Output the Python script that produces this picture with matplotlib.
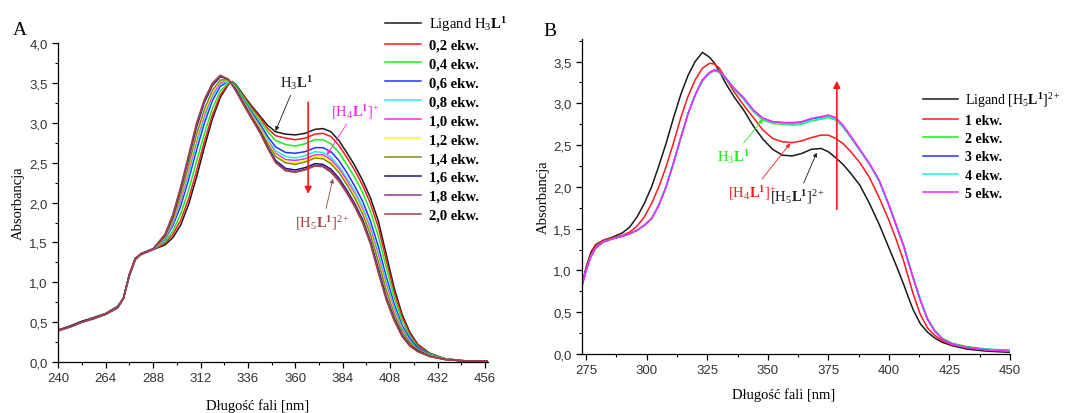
"""
UV-Vis titration spectra: panel A (ligand H3L1 + 0.2-2.0 ekw.) and panel B (ligand [H5L1]2+ + 1-5 ekw.).
"""
import matplotlib
matplotlib.use('Agg')
import matplotlib.pyplot as plt
from matplotlib.ticker import MultipleLocator, FuncFormatter

plt.rcParams['font.family'] = ['Liberation Serif', 'DejaVu Serif']
plt.rcParams['mathtext.fontset'] = 'custom'
plt.rcParams['mathtext.rm'] = 'Liberation Serif'
plt.rcParams['mathtext.bf'] = 'Liberation Serif:bold'
plt.rcParams['mathtext.it'] = 'Liberation Serif:italic'

# ---- panel A data (wavelength in nm, absorbance) ----
wl_a = [240, 246, 252, 258, 264, 270, 273, 276, 279, 282, 288,
        294, 298, 302, 306, 310, 314, 318, 322, 326, 328,
        330, 334, 338, 342, 346, 350, 355, 360, 365, 370,
        374, 378, 382, 386, 390, 394, 398, 402, 406, 410,
        414, 418, 422, 428, 436, 446, 458]

a_ligand = [0.40, 0.45, 0.51, 0.56, 0.61, 0.70, 0.80, 1.08, 1.28, 1.35, 1.41,
            1.47, 1.56, 1.72, 1.98, 2.32, 2.70, 3.05, 3.32, 3.48, 3.52,
            3.48, 3.34, 3.21, 3.09, 2.97, 2.89, 2.86, 2.85, 2.87, 2.92,
            2.93, 2.89, 2.78, 2.63, 2.47, 2.28, 2.06, 1.77, 1.35, 0.93,
            0.60, 0.37, 0.22, 0.11, 0.04, 0.015, 0.01]
a_02 = [0.40, 0.45, 0.51, 0.55, 0.60, 0.69, 0.80, 1.09, 1.29, 1.35, 1.41,
        1.49, 1.60, 1.78, 2.05, 2.40, 2.77, 3.10, 3.35, 3.49, 3.52,
        3.47, 3.33, 3.19, 3.07, 2.93, 2.84, 2.81, 2.79, 2.81, 2.86,
        2.87, 2.83, 2.72, 2.57, 2.41, 2.22, 1.99, 1.69, 1.28, 0.88,
        0.57, 0.35, 0.21, 0.10, 0.04, 0.015, 0.01]
a_04 = [0.40, 0.44, 0.51, 0.55, 0.60, 0.69, 0.80, 1.09, 1.29, 1.36, 1.41,
        1.51, 1.64, 1.86, 2.16, 2.52, 2.87, 3.18, 3.40, 3.50, 3.51,
        3.46, 3.31, 3.16, 3.03, 2.89, 2.78, 2.73, 2.71, 2.74, 2.79,
        2.79, 2.74, 2.63, 2.48, 2.32, 2.13, 1.89, 1.58, 1.19, 0.81,
        0.52, 0.32, 0.19, 0.10, 0.037, 0.014, 0.01]
a_06 = [0.40, 0.45, 0.50, 0.55, 0.60, 0.69, 0.80, 1.09, 1.29, 1.36, 1.41,
        1.54, 1.71, 1.96, 2.29, 2.66, 3.00, 3.28, 3.46, 3.52, 3.50,
        3.44, 3.28, 3.13, 2.99, 2.83, 2.70, 2.63, 2.62, 2.64, 2.69,
        2.69, 2.64, 2.53, 2.38, 2.21, 2.02, 1.77, 1.45, 1.07, 0.73,
        0.46, 0.29, 0.18, 0.09, 0.035, 0.013, 0.01]
a_08 = [0.40, 0.44, 0.50, 0.55, 0.60, 0.69, 0.80, 1.09, 1.29, 1.36, 1.41,
        1.55, 1.74, 2.02, 2.36, 2.74, 3.07, 3.33, 3.49, 3.52, 3.50,
        3.43, 3.27, 3.11, 2.96, 2.79, 2.65, 2.58, 2.56, 2.59, 2.64,
        2.63, 2.57, 2.46, 2.31, 2.15, 1.95, 1.70, 1.37, 1.00, 0.68,
        0.43, 0.26, 0.16, 0.085, 0.034, 0.013, 0.01]
a_10 = [0.39, 0.44, 0.50, 0.55, 0.60, 0.69, 0.80, 1.09, 1.29, 1.36, 1.41,
        1.56, 1.76, 2.05, 2.41, 2.79, 3.11, 3.36, 3.51, 3.53, 3.49,
        3.42, 3.26, 3.10, 2.95, 2.77, 2.62, 2.54, 2.53, 2.55, 2.60,
        2.60, 2.54, 2.43, 2.28, 2.11, 1.91, 1.66, 1.32, 0.96, 0.65,
        0.41, 0.25, 0.16, 0.08, 0.033, 0.013, 0.01]
a_12 = [0.40, 0.45, 0.50, 0.55, 0.60, 0.68, 0.80, 1.10, 1.29, 1.36, 1.42,
        1.57, 1.78, 2.08, 2.44, 2.82, 3.14, 3.38, 3.53, 3.53, 3.49,
        3.42, 3.25, 3.09, 2.94, 2.76, 2.60, 2.52, 2.50, 2.53, 2.58,
        2.58, 2.51, 2.40, 2.25, 2.09, 1.89, 1.63, 1.29, 0.93, 0.63,
        0.39, 0.24, 0.15, 0.08, 0.033, 0.012, 0.01]
a_14 = [0.40, 0.44, 0.50, 0.55, 0.60, 0.68, 0.80, 1.10, 1.30, 1.36, 1.42,
        1.57, 1.79, 2.10, 2.47, 2.86, 3.17, 3.41, 3.54, 3.54, 3.49,
        3.42, 3.25, 3.08, 2.92, 2.74, 2.58, 2.50, 2.48, 2.51, 2.56,
        2.55, 2.49, 2.38, 2.23, 2.06, 1.86, 1.60, 1.26, 0.90, 0.61,
        0.38, 0.24, 0.15, 0.08, 0.032, 0.012, 0.01]
a_16 = [0.40, 0.45, 0.51, 0.55, 0.60, 0.68, 0.80, 1.10, 1.30, 1.36, 1.42,
        1.59, 1.83, 2.17, 2.56, 2.95, 3.26, 3.47, 3.58, 3.55, 3.48,
        3.41, 3.23, 3.06, 2.90, 2.70, 2.53, 2.43, 2.41, 2.44, 2.49,
        2.48, 2.42, 2.31, 2.16, 1.99, 1.79, 1.52, 1.17, 0.82, 0.55,
        0.34, 0.21, 0.14, 0.07, 0.031, 0.012, 0.01]
a_18 = [0.39, 0.44, 0.50, 0.54, 0.60, 0.68, 0.80, 1.10, 1.30, 1.36, 1.42,
        1.60, 1.84, 2.19, 2.58, 2.98, 3.28, 3.49, 3.59, 3.55, 3.48,
        3.40, 3.22, 3.05, 2.89, 2.69, 2.51, 2.41, 2.39, 2.42, 2.47,
        2.46, 2.40, 2.29, 2.14, 1.97, 1.77, 1.50, 1.14, 0.80, 0.53,
        0.33, 0.20, 0.13, 0.07, 0.03, 0.012, 0.01]
a_20 = [0.40, 0.44, 0.50, 0.55, 0.60, 0.68, 0.80, 1.10, 1.30, 1.36, 1.42,
        1.60, 1.85, 2.20, 2.60, 3.00, 3.30, 3.50, 3.60, 3.55, 3.48,
        3.40, 3.22, 3.05, 2.88, 2.68, 2.50, 2.40, 2.38, 2.41, 2.46,
        2.45, 2.38, 2.27, 2.12, 1.95, 1.75, 1.48, 1.12, 0.78, 0.52,
        0.32, 0.20, 0.13, 0.07, 0.03, 0.012, 0.01]

labels_a = [r'Ligand $\mathrm{H}_3\mathbf{L}^{\mathbf{1}}$', '0,2 ekw.', '0,4 ekw.', '0,6 ekw.',
            '0,8 ekw.', '1,0 ekw.', '1,2 ekw.', '1,4 ekw.', '1,6 ekw.', '1,8 ekw.', '2,0 ekw.']
colors_a = ['#1a1a1a', '#ff1a1a', '#1aee1a', '#2233ff', '#22eeee', '#ff22ff',
            '#ffff22', '#858515', '#151585', '#8a3a8e', '#a04444']

# ---- panel B data ----
wl_b = [273.3, 275, 277, 279, 282, 286, 290, 293, 296, 299,
        302, 305, 308, 311, 314, 317, 320, 323, 326, 328,
        330, 333, 336, 340, 344, 348, 352, 356, 360, 364,
        368, 372, 375, 378, 381, 384, 388, 392, 396, 400,
        403, 406, 408, 410, 413, 416, 419, 422, 426, 432,
        440, 450]

b_ligand = [0.82, 1.04, 1.22, 1.31, 1.36, 1.40, 1.45, 1.52, 1.64, 1.80,
            2.00, 2.25, 2.52, 2.82, 3.10, 3.33, 3.50, 3.61, 3.55, 3.48,
            3.38, 3.22, 3.08, 2.92, 2.73, 2.57, 2.45, 2.38, 2.37, 2.40,
            2.45, 2.46, 2.42, 2.35, 2.27, 2.17, 2.02, 1.80, 1.55, 1.27,
            1.06, 0.84, 0.68, 0.53, 0.36, 0.26, 0.19, 0.14, 0.10, 0.06,
            0.035, 0.02]
b_1 = [0.82, 1.03, 1.20, 1.30, 1.36, 1.39, 1.42, 1.46, 1.53, 1.64,
       1.80, 2.00, 2.24, 2.52, 2.82, 3.08, 3.28, 3.42, 3.48, 3.47,
       3.42, 3.28, 3.14, 2.98, 2.83, 2.68, 2.58, 2.54, 2.53, 2.55,
       2.59, 2.62, 2.62, 2.58, 2.52, 2.43, 2.29, 2.11, 1.87, 1.60,
       1.37, 1.12, 0.92, 0.72, 0.47, 0.31, 0.22, 0.16, 0.11, 0.075,
       0.05, 0.03]
b_2 = [0.82, 1.00, 1.17, 1.27, 1.34, 1.38, 1.41, 1.44, 1.48, 1.54,
       1.62, 1.78, 2.00, 2.28, 2.58, 2.87, 3.10, 3.27, 3.36, 3.39,
       3.37, 3.28, 3.17, 3.05, 2.90, 2.80, 2.76, 2.75, 2.74, 2.75,
       2.79, 2.81, 2.83, 2.80, 2.72, 2.60, 2.44, 2.27, 2.07, 1.79,
       1.55, 1.31, 1.11, 0.92, 0.65, 0.42, 0.28, 0.19, 0.13, 0.09,
       0.06, 0.045]
b_3 = [0.82, 1.00, 1.17, 1.27, 1.34, 1.38, 1.41, 1.44, 1.48, 1.54,
       1.62, 1.78, 2.00, 2.28, 2.58, 2.87, 3.10, 3.28, 3.37, 3.40,
       3.38, 3.29, 3.18, 3.06, 2.92, 2.82, 2.78, 2.77, 2.76, 2.77,
       2.81, 2.83, 2.84, 2.82, 2.73, 2.61, 2.44, 2.27, 2.07, 1.78,
       1.54, 1.30, 1.10, 0.91, 0.64, 0.41, 0.27, 0.18, 0.12, 0.08,
       0.055, 0.04]
b_4 = [0.82, 1.00, 1.17, 1.27, 1.34, 1.38, 1.41, 1.44, 1.48, 1.54,
       1.62, 1.78, 2.00, 2.28, 2.58, 2.87, 3.10, 3.28, 3.37, 3.40,
       3.38, 3.29, 3.18, 3.06, 2.91, 2.81, 2.77, 2.76, 2.75, 2.76,
       2.80, 2.82, 2.84, 2.81, 2.73, 2.61, 2.44, 2.27, 2.07, 1.78,
       1.54, 1.30, 1.10, 0.91, 0.64, 0.41, 0.27, 0.18, 0.12, 0.08,
       0.055, 0.04]
b_5 = [0.82, 1.00, 1.17, 1.27, 1.34, 1.38, 1.41, 1.44, 1.48, 1.54,
       1.62, 1.78, 2.00, 2.28, 2.58, 2.87, 3.10, 3.28, 3.37, 3.40,
       3.38, 3.29, 3.18, 3.07, 2.92, 2.82, 2.78, 2.77, 2.77, 2.78,
       2.82, 2.84, 2.86, 2.83, 2.74, 2.62, 2.45, 2.28, 2.08, 1.78,
       1.54, 1.30, 1.10, 0.91, 0.64, 0.41, 0.27, 0.18, 0.12, 0.08,
       0.05, 0.035]

labels_b = [r'Ligand $[\mathrm{H}_5\mathbf{L}^{\mathbf{1}}]^{2+}$', '1 ekw.', '2 ekw.',
            '3 ekw.', '4 ekw.', '5 ekw.']
colors_b = ['#1a1a1a', '#ff1a1a', '#1aee1a', '#2233ff', '#22eeee', '#ff22ff']

SANS = 'Liberation Sans'
TICK_COLOR = '#333333'


def comma_fmt(v, pos):
    return f'{v:.1f}'.replace('.', ',')


def style_axes(ax, xmajor, xminor):
    for side in ('top', 'right'):
        ax.spines[side].set_visible(False)
    for side in ('left', 'bottom'):
        ax.spines[side].set_linewidth(0.9)
    ax.xaxis.set_major_locator(MultipleLocator(xmajor))
    ax.xaxis.set_minor_locator(MultipleLocator(xminor))
    ax.yaxis.set_major_locator(MultipleLocator(0.5))
    ax.yaxis.set_minor_locator(MultipleLocator(0.25))
    ax.yaxis.set_major_formatter(FuncFormatter(comma_fmt))
    ax.tick_params(which='major', direction='out', length=4, width=0.9,
                   labelsize=9.5, labelcolor=TICK_COLOR)
    ax.tick_params(which='minor', direction='out', length=2.5, width=0.8)
    for lab in ax.get_xticklabels() + ax.get_yticklabels():
        lab.set_family(SANS)


def add_legend(ax, handles, labels, anchor, spacing, textpad, size):
    leg = ax.legend(handles, labels, loc='upper left', bbox_to_anchor=anchor,
                    bbox_transform=ax.figure.transFigure, frameon=False,
                    fontsize=size, handlelength=2.5, handletextpad=textpad,
                    labelspacing=spacing, borderpad=0, borderaxespad=0)
    for i, txt in enumerate(leg.get_texts()):
        if i > 0:
            txt.set_fontweight('bold')
    return leg


def note(ax, text, xy, xytext, color, size=10.5):
    ax.annotate(text, xy=xy, xytext=xytext, color=color, fontsize=size,
                ha='center', va='center',
                arrowprops=dict(arrowstyle='-|>', color=color, lw=0.6,
                                mutation_scale=6, shrinkA=1, shrinkB=0))


fig = plt.figure(figsize=(10.65, 4.14), dpi=100)

# ---- panel A ----
ax_a = fig.add_axes([0.0547, 0.1232, 0.4035, 0.7698])
series_a = [a_ligand, a_02, a_04, a_06, a_08, a_10, a_12, a_14, a_16, a_18, a_20]
lines_a = []
for values, color in zip(series_a, colors_a):
    line, = ax_a.plot(wl_a, values, color=color, lw=1.1)
    lines_a.append(line)
ax_a.set_xlim(240, 457.5)
ax_a.set_ylim(0, 4.0)
style_axes(ax_a, 24, 12)
ax_a.set_ylabel('Absorbancja', fontsize=10.5)
ax_a.yaxis.set_label_coords(-0.077, 0.5)
ax_a.set_xlabel('Długość fali [nm]', fontsize=10.5)
ax_a.xaxis.set_label_coords(0.465, -0.113)
add_legend(ax_a, lines_a, labels_a, (0.3615, 0.964), 0.39, 0.5, 10.5)

note(ax_a, r'$\mathrm{H}_3\mathbf{L}^{\mathbf{1}}$', (350, 2.90), (360.3, 3.51), '#1a1a1a')
note(ax_a, r'$[\mathrm{H}_4\mathbf{L}^{\mathbf{1}}]^{+}$', (376, 2.60), (390.2, 3.15), '#ff22ff')
note(ax_a, r'$[\mathrm{H}_5\mathbf{L}^{\mathbf{1}}]^{2+}$', (379, 2.30), (374, 1.76), '#a04444')
ax_a.annotate('', xy=(366.5, 2.11), xytext=(366.5, 3.26),
              arrowprops=dict(arrowstyle='-|>', color='#ff1a1a', lw=1.2,
                              mutation_scale=10, shrinkA=0, shrinkB=0))
fig.text(0.012, 0.915, 'A', fontsize=14, va='baseline')

# ---- panel B ----
ax_b = fig.add_axes([0.5465, 0.1425, 0.4019, 0.7609])
series_b = [b_ligand, b_1, b_2, b_3, b_4, b_5]
lines_b = []
for values, color in zip(series_b, colors_b):
    line, = ax_b.plot(wl_b, values, color=color, lw=1.1)
    lines_b.append(line)
ax_b.set_xlim(273.3, 450)
ax_b.set_ylim(0, 3.77)
style_axes(ax_b, 25, 12.5)
ax_b.set_ylabel('Absorbancja', fontsize=10.5)
ax_b.yaxis.set_label_coords(-0.075, 0.5)
ax_b.set_xlabel('Długość fali [nm]', fontsize=10.5)
ax_b.xaxis.set_label_coords(0.47, -0.105)
add_legend(ax_b, lines_b, labels_b, (0.8667, 0.781), 0.38, 0.55, 10)

note(ax_b, r'$\mathrm{H}_3\mathbf{L}^{\mathbf{1}}$', (348, 2.81), (335.7, 2.37), '#1aee1a')
note(ax_b, r'$[\mathrm{H}_4\mathbf{L}^{\mathbf{1}}]^{+}$', (359.2, 2.52), (343.5, 1.94), '#ff1a1a')
note(ax_b, r'$[\mathrm{H}_5\mathbf{L}^{\mathbf{1}}]^{2+}$', (370.2, 2.41), (362.5, 1.89), '#1a1a1a')
ax_b.annotate('', xy=(378.5, 3.27), xytext=(378.5, 1.73),
              arrowprops=dict(arrowstyle='-|>', color='#ff1a1a', lw=1.2,
                              mutation_scale=10, shrinkA=0, shrinkB=0))
fig.text(0.51, 0.913, 'B', fontsize=14, va='baseline')

fig.savefig('out.png', dpi=100)
